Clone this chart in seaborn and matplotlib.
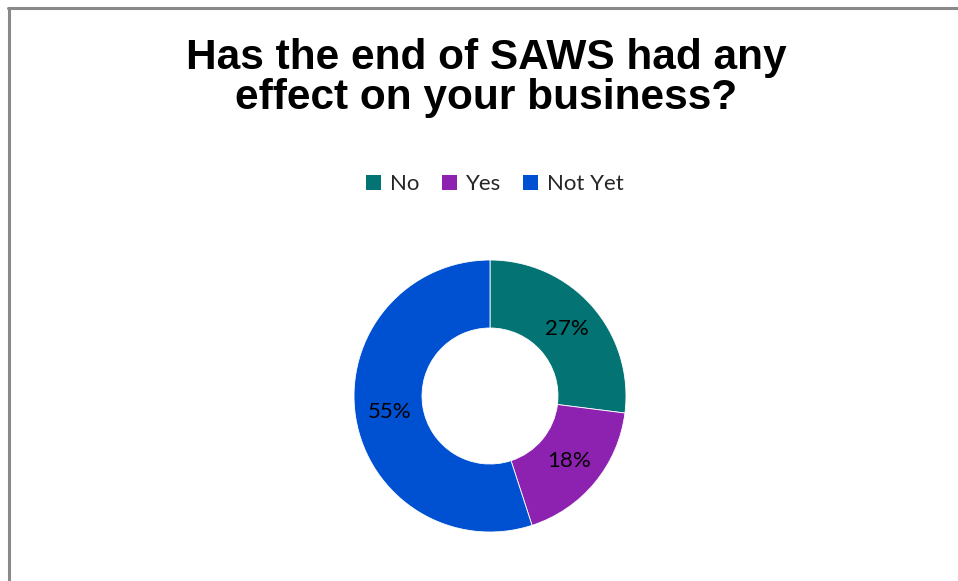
import matplotlib
matplotlib.use("Agg")
import matplotlib.pyplot as plt
import seaborn as sns
from matplotlib.lines import Line2D
from matplotlib.patches import Patch

sns.set_theme(style="white")
plt.rcParams["font.family"] = ["Lato", "DejaVu Sans"]

# data
categories = ["No", "Yes", "Not Yet"]
shares = [27, 18, 55]
colors = ["#037373", "#8E22B0", "#0050D2"]
title = "Has the end of SAWS had any\neffect on your business?"

W, H = 958, 581
fig = plt.figure(figsize=(W / 100, H / 100), dpi=100)
fig.patch.set_facecolor("white")

# chart border (top and left edges visible)
border = "#8a8a8a"
fig.add_artist(Line2D([8 / W, 1], [1 - 8 / H, 1 - 8 / H], color=border, lw=2.2,
                      transform=fig.transFigure))
fig.add_artist(Line2D([9 / W, 9 / W], [0, 1 - 8 / H], color=border, lw=2.2,
                      transform=fig.transFigure))

# donut
cx, cy, r = 490, 396, 136
ax = fig.add_axes([(cx - r) / W, (H - cy - r) / H, 2 * r / W, 2 * r / H])
wedges, texts, autotexts = ax.pie(
    shares, colors=colors, startangle=90, counterclock=False,
    autopct="%d%%", pctdistance=0.75,
    wedgeprops=dict(width=0.5, edgecolor="white", linewidth=0.6),
    textprops=dict(fontsize=16, color="black"),
)
ax.set_xlim(-1, 1)
ax.set_ylim(-1, 1)
ax.axis("off")

fig.text(486 / W, 1 - 38.5 / H, title, ha="center", va="top", fontsize=30.5,
         fontweight="bold", family=["Liberation Sans", "DejaVu Sans"],
         linespacing=1.0, color="black")

handles = [Patch(facecolor=c, edgecolor="none") for c in colors]
fig.legend(handles, categories, loc="center", bbox_to_anchor=(495 / W, 1 - 184 / H),
           ncol=3, frameon=False, fontsize=16, handlelength=0.68, handleheight=0.68,
           handletextpad=0.4, columnspacing=1.0)

fig.savefig("out.png", dpi=100, facecolor="white")
